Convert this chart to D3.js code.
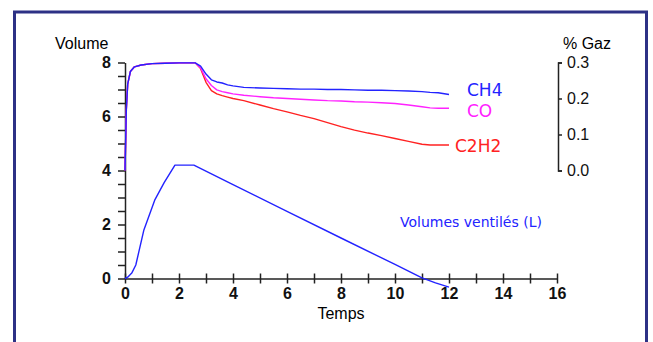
<!DOCTYPE html>
<meta charset="utf-8">
<title>Volumes ventilés et % Gaz</title>
<style>
body { margin: 0; background: #fff; }
.axis path, .axis line { stroke: #222; stroke-width: 1.5; }
.axis text { font-family: "Liberation Sans", Arial, sans-serif; fill: #111; }
.gas { fill: none; stroke-width: 1.4; stroke-linejoin: round; }
.lbl { font-family: "Comic Sans MS", "DejaVu Sans", sans-serif; }
</style>
<body>
<script src="https://d3js.org/d3.v7.min.js"></script>
<script>

// temps (min) et volume ventilé (L)
var volTime = [0, 0.1, 0.25, 0.4, 0.7, 1.1, 1.45, 1.85, 2.0, 2.55, 4, 6, 8, 10, 11, 11.5, 12];
var volValues = [0, 0.05, 0.2, 0.5, 1.8, 2.9, 3.55, 4.2, 4.2, 4.2, 3.48, 2.49, 1.5, 0.52, 0.02, -0.16, -0.32];

// % gaz
var gasTime = [0, 0.05, 0.1, 0.2, 0.35, 0.6, 1.0, 1.5, 2.0, 2.6, 2.8, 3.0, 3.2, 3.4, 3.6, 3.8, 4.0, 4.4,
  5.0, 5.5, 6.0, 6.5, 7.0, 7.5, 8.0, 8.5, 9.0, 9.5, 10.0, 10.5, 11.0, 11.3, 11.6, 12.0];
var ch4 = [0, 0.17, 0.24, 0.275, 0.288, 0.293, 0.297, 0.298, 0.299, 0.299, 0.29, 0.268, 0.252, 0.246, 0.243, 0.238, 0.235, 0.231,
  0.229, 0.228, 0.227, 0.226, 0.226, 0.225, 0.225, 0.224, 0.223, 0.223, 0.222, 0.221, 0.219, 0.217, 0.216, 0.211];
var co = [0, 0.17, 0.24, 0.275, 0.288, 0.293, 0.297, 0.298, 0.299, 0.299, 0.285, 0.255, 0.236, 0.224, 0.219, 0.216, 0.213, 0.209,
  0.205, 0.202, 0.2, 0.198, 0.196, 0.194, 0.193, 0.191, 0.19, 0.188, 0.186, 0.182, 0.177, 0.174, 0.173, 0.173];
var c2h2 = [0, 0.17, 0.24, 0.275, 0.288, 0.293, 0.297, 0.298, 0.299, 0.299, 0.283, 0.245, 0.222, 0.213, 0.208, 0.204, 0.2, 0.194,
  0.182, 0.172, 0.163, 0.153, 0.144, 0.133, 0.122, 0.112, 0.104, 0.097, 0.089, 0.081, 0.073, 0.071, 0.071, 0.071];

var gasNames = ["CH4", "CO", "C2H2"];
var gasColors = ["#2323ff", "#ff22ff", "#ff2222"];

var W = 653, H = 342;

var svg = d3.select("body").append("svg")
    .attr("width", W)
    .attr("height", H);

// cadre
svg.append("rect")
    .attr("x", 14.5).attr("y", 12)
    .attr("width", 632).attr("height", 345)
    .attr("fill", "#fff")
    .attr("stroke", "#2d3185")
    .attr("stroke-width", 3);

var x = d3.scaleLinear().domain([0, 16]).range([125, 557]);
var y = d3.scaleLinear().domain([0, 8]).range([278.5, 62.5]);
var y2 = d3.scaleLinear().domain([0, 0.3]).range([170.5, 62.5]);

// axe des x
var gx = svg.append("g")
    .attr("class", "axis")
    .attr("transform", "translate(0," + y(0) + ")")
    .call(d3.axisBottom(x)
      .tickValues(d3.range(0, 17))
      .tickSizeInner(5)
      .tickSizeOuter(0)
      .tickPadding(4)
      .tickFormat(function(d) { return d % 2 === 0 ? d : ""; }));
gx.selectAll(".tick line").attr("y1", -5);
gx.selectAll("text").attr("font-size", 16).attr("font-weight", "bold");

// axe des y (volume)
var gy = svg.append("g")
    .attr("class", "axis")
    .attr("transform", "translate(" + x(0) + ",0)")
    .call(d3.axisLeft(y)
      .tickValues(d3.range(0, 8.01, 0.5))
      .tickSizeInner(7)
      .tickSizeOuter(0)
      .tickPadding(7)
      .tickFormat(function(d) { return d % 2 === 0 ? d : ""; }));
gy.selectAll("text").attr("font-size", 16).attr("font-weight", "bold");

// axe de droite (% gaz)
var gy2 = svg.append("g")
    .attr("class", "axis")
    .attr("transform", "translate(558,0)")
    .call(d3.axisRight(y2)
      .tickValues([0, 0.1, 0.2, 0.3])
      .tickSizeInner(4)
      .tickSizeOuter(4)
      .tickPadding(5)
      .tickFormat(d3.format(".1f")));
gy2.selectAll("text").attr("font-size", 16);

svg.selectAll(".axis .domain").attr("stroke-width", 1.5);

// titres d'axes
var axisFont = "'Liberation Sans', Arial, sans-serif";
svg.append("text").attr("x", 55).attr("y", 49)
    .attr("font-family", axisFont).attr("font-size", 16)
    .text("Volume");
svg.append("text").attr("x", 563).attr("y", 49)
    .attr("font-family", axisFont).attr("font-size", 16)
    .text("% Gaz");
svg.append("text").attr("x", 341).attr("y", 319)
    .attr("text-anchor", "middle")
    .attr("font-family", axisFont).attr("font-size", 16)
    .text("Temps");

// courbes de gaz
var gasLine = d3.line()
    .x(function(d, i) { return x(gasTime[i]); })
    .y(function(d) { return y2(d); });

[ch4, co, c2h2].slice().reverse().forEach(function(s, k) {
  var i = 2 - k;
  svg.append("path")
      .datum(s)
      .attr("class", "gas")
      .attr("stroke", gasColors[i])
      .attr("d", gasLine);
});

// volume ventilé
var volLine = d3.line()
    .x(function(d, i) { return x(volTime[i]); })
    .y(function(d) { return y(d); });

svg.append("path")
    .datum(volValues)
    .attr("class", "gas")
    .attr("stroke", gasColors[0])
    .attr("d", volLine);

// étiquettes
var lblPos = [[467, 96], [467, 117], [455, 152]];
gasNames.forEach(function(n, i) {
  svg.append("text")
      .attr("class", "lbl")
      .attr("x", lblPos[i][0]).attr("y", lblPos[i][1])
      .attr("font-size", 17)
      .attr("fill", gasColors[i])
      .text(n);
});

svg.append("text")
    .attr("class", "lbl")
    .attr("x", 400).attr("y", 227)
    .attr("font-size", 14)
    .attr("fill", gasColors[0])
    .text("Volumes ventilés (L)");

</script>
</body>
